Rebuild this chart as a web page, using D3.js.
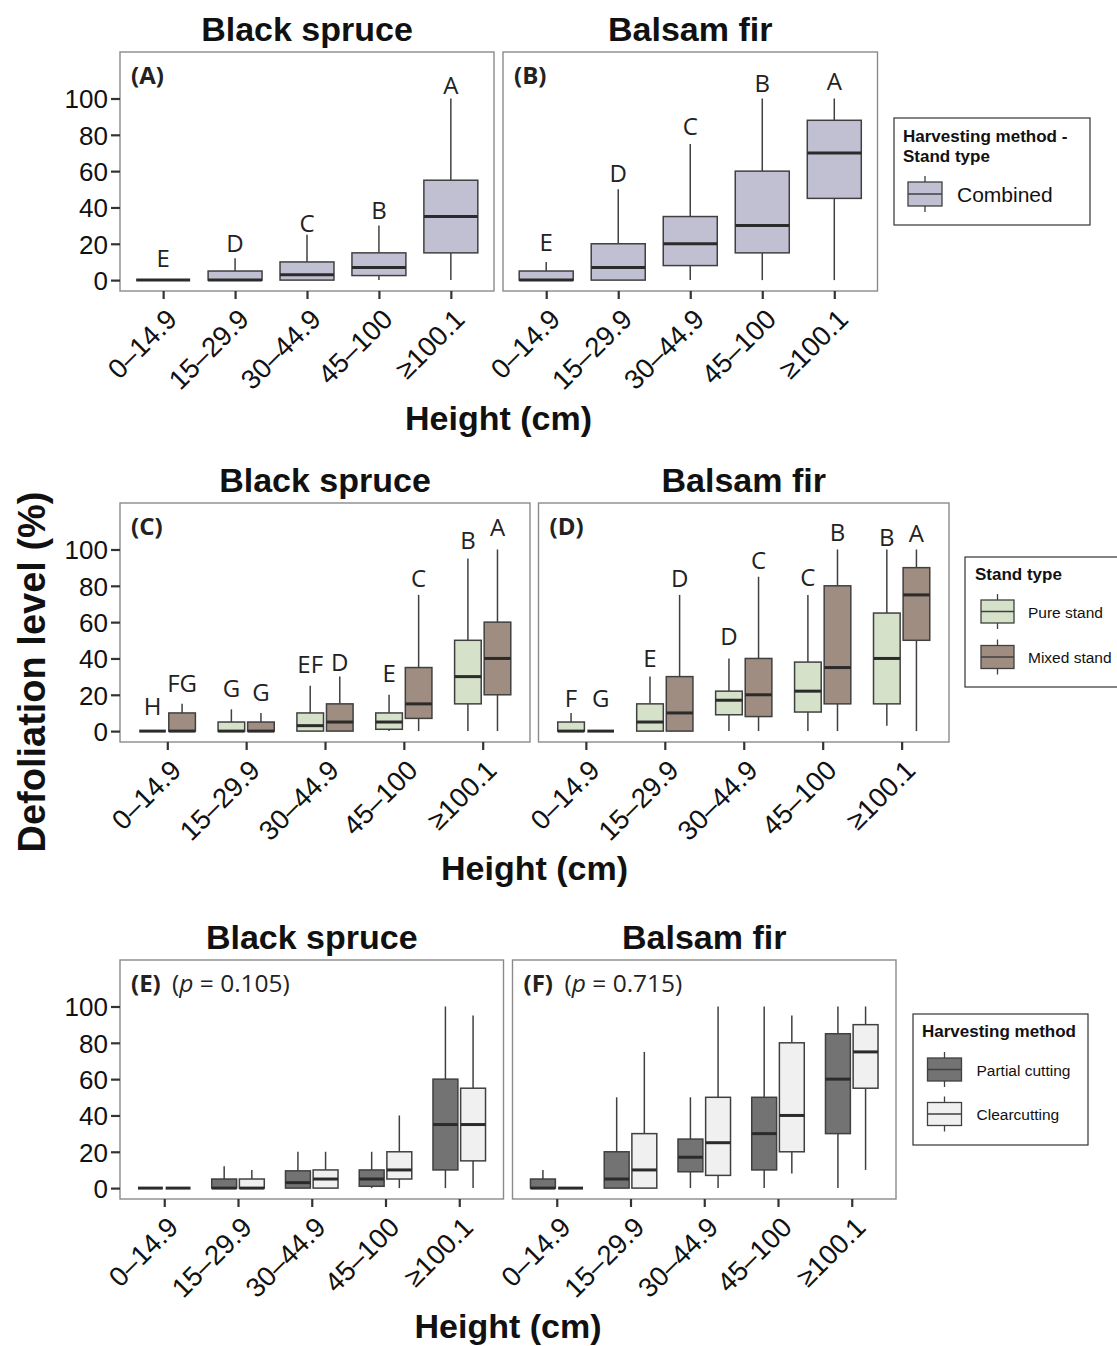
<!DOCTYPE html>
<html><head><meta charset="utf-8">
<script src="https://cdn.jsdelivr.net/npm/d3@7"></script>
<style>body{margin:0;background:#fff}</style>
</head><body>
<svg id="chart" width="1117" height="1346" xmlns="http://www.w3.org/2000/svg"></svg>
<script>
// ---------------- DATA ----------------
const heightCats = ["0–14.9", "15–29.9", "30–44.9", "45–100", "≥100.1"];
const yTicks = [0, 20, 40, 60, 80, 100];
const species = ["Black spruce", "Balsam fir"];
const standTypes = ["Pure stand", "Mixed stand"];
const harvestMethods = ["Partial cutting", "Clearcutting"];
const combinedLabel = "Combined";
// box stats: [lower whisker, Q1, median, Q3, upper whisker]
// (A) Black spruce, combined
const spruceCombined = [[0,0,0,0,0],[0,0,0,5,12],[0,0,3,10,25],[0,2.5,7,15,30],[0,15,35,55,100]];
const spruceCombinedLetters = ["E","D","C","B","A"];
const spruceCombinedLetterY = [12,20,31.5,38.5,107.5];
// (B) Balsam fir, combined
const firCombined = [[0,0,0,5,10],[0,0,7,20,50],[0,8,20,35,75],[0,15,30,60,100],[0,45,70,88,100]];
const firCombinedLetters = ["E","D","C","B","A"];
const firCombinedLetterY = [21,59,84.5,108.5,109.5];
// (C) Black spruce by stand type
const sprucePure = [[0,0,0,0,0],[0,0,0,5,12],[0,0,3,10,25],[0,1,5,10,20],[0,15,30,50,95]];
const spruceMixed = [[0,0,0,10,15],[0,0,0,5,10],[0,0,5,15,30],[0,7,15,35,75],[0,20,40,60,100]];
const sprucePureLetters = ["H","G","EF","E","B"];
const sprucePureLetterY = [13.5,23.5,37,32,105];
const spruceMixedLetters = ["FG","G","D","C","A"];
const spruceMixedLetterY = [26.5,21.5,38,84,112];
// (D) Balsam fir by stand type
const firPure = [[0,0,0,5,10],[0,0,5,15,30],[0,9,17,22,40],[0,10.5,22,38,75],[3,15,40,65,100]];
const firMixed = [[0,0,0,0,0],[0,0,10,30,75],[0,8,20,40,85],[0,15,35,80,100],[0,50,75,90,100]];
const firPureLetters = ["F","E","D","C","B"];
const firPureLetterY = [18,40,52,84.5,106.5];
const firMixedLetters = ["G","D","C","B","A"];
const firMixedLetterY = [18,84,94,109.5,109];
// (E) Black spruce by harvesting method
const sprucePartial = [[0,0,0,0,0],[0,0,0,5,12],[0,0,3,9.5,20],[0,1,5,10,20],[0,10,35,60,100]];
const spruceClear = [[0,0,0,0,0],[0,0,0,5,10],[0,0,5,10,20],[0,5,10,20,40],[0,15,35,55,95]];
// (F) Balsam fir by harvesting method
const firPartial = [[0,0,0,5,10],[0,0,5,20,50],[0,9,17,27,50],[0,10,30,50,100],[0,30,60,85,100]];
const firClear = [[0,0,0,0,0],[0,0,10,30,75],[0,7,25,50,100],[8,20,40,80,95],[10,55,75,90,100]];
const pValues = ["0.105", "0.715"];

// ---------------- STYLE ----------------
const AX = '"Liberation Sans", Arial, sans-serif';
const OS = '"Open Sans", sans-serif';
const colCombined = "#c1c0d3";
const colPure = "#d5e1c9";
const colMixed = "#9e8d80";
const colPartial = "#737373";
const colClear = "#f0f0f0";
const boxStroke = "#404040";
const medStroke = "#2b2b2b";

const svg = d3.select("#chart");

function panel(o) {
  const g = svg.append("g");
  const x = d3.scalePoint().domain(heightCats).range([o.left, o.right]).padding(0.6);
  const y = d3.scaleLinear().domain([-6, 125.6]).range([o.bottom, o.top]);
  const step = x.step();
  const nS = o.series.length;
  const groupW = step * 0.75;
  const boxW = nS > 1 ? groupW / nS * 0.9 : groupW;
  const off = i => nS === 1 ? 0 : (i - (nS - 1) / 2) * groupW / nS;

  // panel border
  g.append("rect").attr("x", o.left).attr("y", o.top)
    .attr("width", o.right - o.left).attr("height", o.bottom - o.top)
    .attr("fill", "none").attr("stroke", "#8a8a8a").attr("stroke-width", 1.4);

  // y axis
  if (o.showY) {
    const ya = g.append("g").attr("transform", `translate(${o.left},0)`)
      .call(d3.axisLeft(y).tickValues(yTicks).tickSize(9).tickPadding(3));
    ya.select(".domain").remove();
    ya.selectAll("line").attr("stroke", "#333").attr("stroke-width", 2.2);
    ya.selectAll("text").attr("font-family", AX).attr("font-size", 26).attr("fill", "#111")
      .attr("dy", "0.36em");
  }
  // x axis
  const xa = g.append("g").attr("transform", `translate(0,${o.bottom})`)
    .call(d3.axisBottom(x).tickSize(8).tickPadding(0));
  xa.select(".domain").remove();
  xa.selectAll("line").attr("stroke", "#333").attr("stroke-width", 2.2);
  xa.selectAll("text").attr("font-family", AX).attr("font-size", 27.5).attr("fill", "#111")
    .attr("y", 0).attr("x", 0).attr("dy", "0.72em").attr("text-anchor", "end")
    .attr("transform", "translate(1,16) rotate(-45)");

  // boxes
  o.series.forEach((s, si) => {
    const sg = g.append("g");
    s.data.forEach((d, ci) => {
      const cx = x(heightCats[ci]) + off(si);
      const [lo, q1, med, q3, hi] = d;
      sg.append("line").attr("x1", cx).attr("x2", cx).attr("y1", y(hi)).attr("y2", y(q3))
        .attr("stroke", boxStroke).attr("stroke-width", 1.5);
      sg.append("line").attr("x1", cx).attr("x2", cx).attr("y1", y(q1)).attr("y2", y(lo))
        .attr("stroke", boxStroke).attr("stroke-width", 1.5);
      sg.append("rect").attr("x", cx - boxW / 2).attr("y", y(q3))
        .attr("width", boxW).attr("height", Math.max(0, y(q1) - y(q3)))
        .attr("fill", s.color).attr("stroke", boxStroke).attr("stroke-width", 1.5);
      sg.append("line").attr("x1", cx - boxW / 2).attr("x2", cx + boxW / 2)
        .attr("y1", y(med)).attr("y2", y(med))
        .attr("stroke", medStroke).attr("stroke-width", 3);
      if (s.letters) {
        sg.append("text").attr("x", cx).attr("y", y(s.letterY[ci]))
          .attr("dy", "0.36em").attr("text-anchor", "middle")
          .attr("font-family", OS).attr("font-size", 24).attr("fill", "#222")
          .text(s.letters[ci]);
      }
    });
  });

  // tag
  g.append("text").attr("x", o.left + 11).attr("y", o.top + 32)
    .attr("font-family", OS).attr("font-weight", "bold").attr("font-size", 24).attr("fill", "#222")
    .text(o.tag);
  if (o.pval) {
    const t = g.append("text").attr("x", o.left + 52).attr("y", o.top + 32)
      .attr("font-family", OS).attr("font-size", 24.5).attr("fill", "#222");
    t.append("tspan").text("(");
    t.append("tspan").attr("font-style", "italic").text("p");
    t.append("tspan").text(" = " + o.pval + ")");
  }
  // title
  svg.append("text").attr("x", (o.left + o.right) / 2).attr("y", o.titleY)
    .attr("text-anchor", "middle").attr("font-family", AX).attr("font-weight", "bold")
    .attr("font-size", 34).attr("fill", "#111").text(o.title);
}

// Row 1
panel({left: 120, right: 494, top: 52, bottom: 291, showY: true, tag: "(A)", title: species[0], titleY: 41,
  series: [{data: spruceCombined, color: colCombined, letters: spruceCombinedLetters, letterY: spruceCombinedLetterY}]});
panel({left: 503, right: 877.5, top: 52, bottom: 291, showY: false, tag: "(B)", title: species[1], titleY: 41,
  series: [{data: firCombined, color: colCombined, letters: firCombinedLetters, letterY: firCombinedLetterY}]});
// Row 2
panel({left: 120, right: 530, top: 503, bottom: 742, showY: true, tag: "(C)", title: species[0], titleY: 492,
  series: [{data: sprucePure, color: colPure, letters: sprucePureLetters, letterY: sprucePureLetterY},
           {data: spruceMixed, color: colMixed, letters: spruceMixedLetters, letterY: spruceMixedLetterY}]});
panel({left: 538.5, right: 949, top: 503, bottom: 742, showY: false, tag: "(D)", title: species[1], titleY: 492,
  series: [{data: firPure, color: colPure, letters: firPureLetters, letterY: firPureLetterY},
           {data: firMixed, color: colMixed, letters: firMixedLetters, letterY: firMixedLetterY}]});
// Row 3
panel({left: 120, right: 503.5, top: 960, bottom: 1199, showY: true, tag: "(E)", pval: pValues[0], title: species[0], titleY: 949,
  series: [{data: sprucePartial, color: colPartial}, {data: spruceClear, color: colClear}]});
panel({left: 512.5, right: 896, top: 960, bottom: 1199, showY: false, tag: "(F)", pval: pValues[1], title: species[1], titleY: 949,
  series: [{data: firPartial, color: colPartial}, {data: firClear, color: colClear}]});

// x-axis titles
[[498.5, 430], [534.5, 880], [508, 1338]].forEach(([cx, cy]) => {
  svg.append("text").attr("x", cx).attr("y", cy).attr("text-anchor", "middle")
    .attr("font-family", AX).attr("font-weight", "bold").attr("font-size", 34).attr("fill", "#111")
    .text("Height (cm)");
});
// y-axis title
svg.append("text").attr("transform", "translate(45,672) rotate(-90)").attr("text-anchor", "middle")
  .attr("font-family", AX).attr("font-weight", "bold").attr("font-size", 38).attr("fill", "#111")
  .text("Defoliation level (%)");

// legends
function keyGlyph(x0, y0, w, h, fill) {
  const cx = x0 + w / 2;
  svg.append("line").attr("x1", cx).attr("x2", cx).attr("y1", y0 - 6).attr("y2", y0 + h + 6)
    .attr("stroke", boxStroke).attr("stroke-width", 1.3);
  svg.append("rect").attr("x", x0).attr("y", y0).attr("width", w).attr("height", h)
    .attr("fill", fill).attr("stroke", boxStroke).attr("stroke-width", 1.3);
  svg.append("line").attr("x1", x0).attr("x2", x0 + w).attr("y1", y0 + h / 2).attr("y2", y0 + h / 2)
    .attr("stroke", boxStroke).attr("stroke-width", 1.3);
}
function legendBox(x0, y0, w, h) {
  svg.append("rect").attr("x", x0).attr("y", y0).attr("width", w).attr("height", h)
    .attr("fill", "#fff").attr("stroke", "#333").attr("stroke-width", 1.2);
}
function legendText(x0, y0, txt, size, bold) {
  svg.append("text").attr("x", x0).attr("y", y0).attr("font-family", AX)
    .attr("font-size", size).attr("font-weight", bold ? "bold" : "normal").attr("fill", "#111").text(txt);
}
// Legend 1
legendBox(894, 118, 196, 107);
legendText(903, 142, "Harvesting method -", 17, true);
legendText(903, 162, "Stand type", 17, true);
keyGlyph(908, 182, 34, 24, colCombined);
legendText(957, 201.5, combinedLabel, 21, false);
// Legend 2
legendBox(965, 557, 160, 130);
legendText(975, 580, "Stand type", 17, true);
[colPure, colMixed].forEach((c, i) => {
  keyGlyph(981, 600 + i * 45.5, 33, 23, c);
  legendText(1028, 617.5 + i * 45.5, standTypes[i], 15.5, false);
});
// Legend 3
legendBox(913, 1014, 175, 131);
legendText(922, 1037, "Harvesting method", 17, true);
[colPartial, colClear].forEach((c, i) => {
  keyGlyph(927.5, 1058 + i * 44.5, 34, 23, c);
  legendText(976.5, 1075.5 + i * 44.5, harvestMethods[i], 15.5, false);
});
</script>
</body></html>
